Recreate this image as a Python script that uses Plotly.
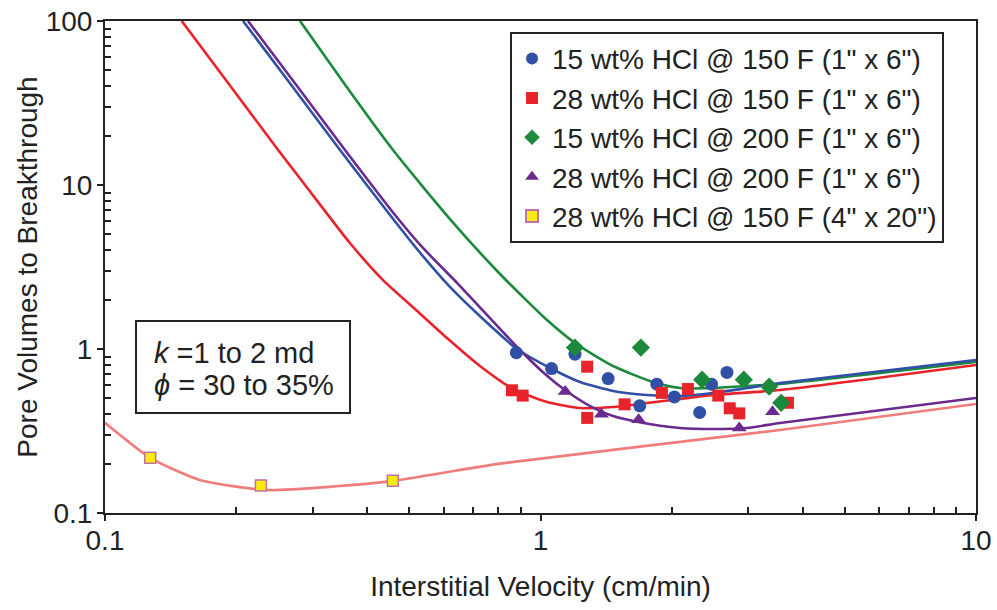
import plotly.graph_objects as go

# ---------------- data ----------------
# measured points
blue_x = [0.88, 1.20, 1.06, 1.43, 1.85, 2.03, 1.69, 2.32, 2.47, 2.68]
blue_y = [0.95, 0.93, 0.76, 0.66, 0.61, 0.51, 0.45, 0.41, 0.61, 0.72]

red_x = [0.86, 0.91, 1.28, 1.28, 1.56, 1.90, 2.18, 2.56, 2.72, 2.86, 3.70]
red_y = [0.56, 0.52, 0.78, 0.38, 0.46, 0.54, 0.57, 0.52, 0.435, 0.405, 0.47]

green_x = [1.20, 1.70, 2.35, 2.93, 3.35, 3.57]
green_y = [1.02, 1.02, 0.65, 0.65, 0.59, 0.47]

purple_x = [1.14, 1.38, 1.68, 2.86, 3.41]
purple_y = [0.55, 0.40, 0.37, 0.33, 0.415]

yellow_x = [0.127, 0.228, 0.458]
yellow_y = [0.217, 0.147, 0.157]

# fitted curves
red_fit_x = [0.150, 0.194, 0.250, 0.288, 0.365, 0.435, 0.521, 0.610, 0.726, 0.865, 1.035, 1.232, 1.467, 1.756, 2.091, 2.489, 3.548, 10.0]
red_fit_y = [100, 40.2, 16.3, 10.0, 4.43, 2.63, 1.705, 1.167, 0.788, 0.571, 0.475, 0.437, 0.443, 0.469, 0.496, 0.524, 0.562, 0.799]

blue_fit_x = [0.2075, 0.2688, 0.3464, 0.4513, 0.5205, 0.6196, 0.7379, 0.883, 1.063, 1.232, 1.467, 1.756, 2.091, 2.489, 2.980, 3.548, 10.0]
blue_fit_y = [100, 40.15, 16.34, 6.56, 4.07, 2.39, 1.523, 1.0, 0.755, 0.629, 0.555, 0.524, 0.517, 0.539, 0.578, 0.620, 0.857]

green_fit_x = [0.2804, 0.3576, 0.4585, 0.6196, 0.8073, 1.035, 1.200, 1.467, 1.813, 2.091, 2.489, 2.980, 3.548, 10.0]
green_fit_y = [100, 40.15, 16.34, 6.20, 2.866, 1.502, 1.088, 0.788, 0.629, 0.578, 0.578, 0.595, 0.612, 0.833]

purple_fit_x = [0.2130, 0.2760, 0.3557, 0.4634, 0.5345, 0.6432, 0.7656, 0.8973, 1.024, 1.138, 1.299, 1.467, 1.675, 2.091, 2.489, 2.980, 3.548, 10.0]
purple_fit_y = [100, 40.15, 16.34, 6.56, 4.19, 2.53, 1.545, 0.986, 0.704, 0.562, 0.449, 0.390, 0.359, 0.330, 0.325, 0.330, 0.354, 0.503]

pink_fit_x = [0.100, 0.127, 0.165, 0.235, 0.334, 0.458, 0.807, 3.548, 10.0]
pink_fit_y = [0.355, 0.217, 0.159, 0.138, 0.145, 0.157, 0.200, 0.321, 0.462]

x_tickvals = [0.1, 1, 10]
x_ticktext = ["0.1", "1", "10"]
y_tickvals = [0.1, 1, 10, 100]
y_ticktext = ["0.1", "1", "10", "100"]

names = [
    '15 wt% HCl @ 150 F (1" x 6")',
    '28 wt% HCl @ 150 F (1" x 6")',
    '15 wt% HCl @ 200 F (1" x 6")',
    '28 wt% HCl @ 200 F (1" x 6")',
    '28 wt% HCl @ 150 F (4" x 20")',
]
box_line1 = "<i>k</i> =1 to 2 md"
box_line2 = "<i>ϕ</i> = 30 to 35%"

# ---------------- styling ----------------
FONT = "Liberation Sans, Arial, sans-serif"
INK = "#222222"
BLUE = "#3050a8"
RED = "#e8232a"
GREEN = "#1b8a3c"
PURPLE = "#6b2a8e"
PINK = "#f07c7c"
YELLOW = "#f7ea10"

fig = go.Figure()

def curve(x, y, color):
    fig.add_trace(go.Scatter(x=x, y=y, mode="lines", showlegend=False, hoverinfo="skip",
                             line=dict(color=color, width=2.6, shape="spline", smoothing=0.6)))

curve(pink_fit_x, pink_fit_y, PINK)
curve(red_fit_x, red_fit_y, RED)
curve(green_fit_x, green_fit_y, GREEN)
curve(blue_fit_x, blue_fit_y, BLUE)
curve(purple_fit_x, purple_fit_y, PURPLE)

fig.add_trace(go.Scatter(x=blue_x, y=blue_y, mode="markers", name=names[0],
                         marker=dict(symbol="circle", size=13, color=BLUE)))
fig.add_trace(go.Scatter(x=red_x, y=red_y, mode="markers", name=names[1],
                         marker=dict(symbol="square", size=12, color=RED)))
fig.add_trace(go.Scatter(x=green_x, y=green_y, mode="markers", name=names[2],
                         marker=dict(symbol="diamond", size=14, color=GREEN)))
fig.add_trace(go.Scatter(x=purple_x, y=purple_y, mode="markers", name=names[3],
                         marker=dict(symbol="triangle-up", size=13, color=PURPLE)))
fig.add_trace(go.Scatter(x=yellow_x, y=yellow_y, mode="markers", name=names[4],
                         marker=dict(symbol="square", size=11, color=YELLOW,
                                     line=dict(color="#c070a8", width=1.5))))

def minor_vals(lo_exp, hi_exp):
    return [d * 10.0 ** e for e in range(lo_exp, hi_exp) for d in range(2, 10)]

axis_common = dict(
    type="log", showgrid=False, zeroline=False, automargin=False,
    showline=True, linecolor=INK, linewidth=2, mirror=True,
    ticks="outside", ticklen=6, tickwidth=1.5, tickcolor=INK,
    ticklabeloverflow="allow",
    tickfont=dict(family=FONT, size=28, color=INK),
)

fig.update_xaxes(axis_common, range=[-1, 1], tickvals=x_tickvals, ticktext=x_ticktext,
                 ticklabelstandoff=-5,
                 minor=dict(tickmode="array", tickvals=minor_vals(-1, 1), ticks="inside",
                            ticklen=6, tickwidth=1.5, tickcolor=INK, showgrid=False),
                 title=dict(text="Interstitial Velocity (cm/min)",
                            font=dict(family=FONT, size=28, color=INK), standoff=22))
fig.update_yaxes(axis_common, range=[-1, 2], tickvals=y_tickvals, ticktext=y_ticktext,
                 ticklabelstandoff=-1,
                 minor=dict(tickmode="array", tickvals=minor_vals(-1, 2), ticks="inside",
                            ticklen=6, tickwidth=1.5, tickcolor=INK, showgrid=False),
                 title=dict(text="Pore Volumes to Breakthrough",
                            font=dict(family=FONT, size=28, color=INK), standoff=0))

# parameter box
fig.add_shape(type="rect", xref="paper", yref="paper", x0=0.0356, x1=0.2813, y0=0.2033, y1=0.3902,
              line=dict(color=INK, width=2), fillcolor="white", layer="above")
fig.add_annotation(xref="paper", yref="paper", x=0.054, y=0.3252, xanchor="left", yanchor="middle",
                   text=box_line1, showarrow=False, font=dict(family=FONT, size=29, color=INK))
fig.add_annotation(xref="paper", yref="paper", x=0.054, y=0.2602, xanchor="left", yanchor="middle",
                   text=box_line2, showarrow=False, font=dict(family=FONT, size=29, color=INK))

fig.update_layout(
    width=997, height=610,
    margin=dict(l=105, r=21, t=21, b=97),
    plot_bgcolor="white", paper_bgcolor="white",
    font=dict(family=FONT, color=INK),
    legend=dict(x=0.9633, y=0.978, xanchor="right", yanchor="top",
                bordercolor=INK, borderwidth=2, bgcolor="white",
                font=dict(family=FONT, size=28, color=INK), itemsizing="constant"),
)

# remove the browser's default page margin so the figure sits at the window's top-left corner
fig.write_html("out.html", config={"displayModeBar": False},
               post_script="document.body.style.margin='0';")
